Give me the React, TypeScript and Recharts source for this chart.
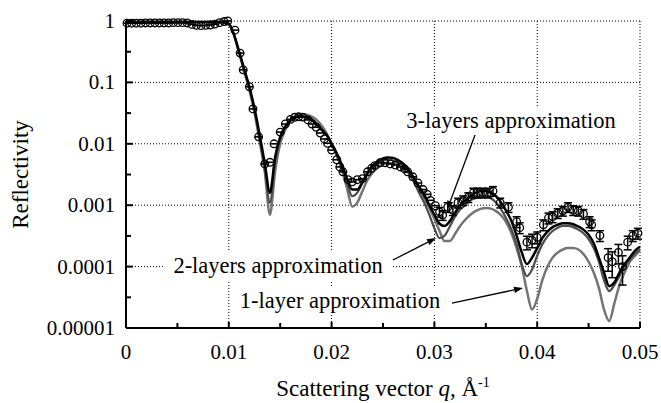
import React from 'react';
import {
  ComposedChart,
  Line,
  Scatter,
  ErrorBar,
  XAxis,
  YAxis,
  CartesianGrid,
  ReferenceLine,
  ReferenceDot,
} from 'recharts';

// model curves, sampled on a shared q grid (1/Å)
const Q_GRID = [
  0, 0.002, 0.004, 0.006, 0.008, 0.0095,
  0.01, 0.0105, 0.011, 0.0115, 0.012, 0.0125, 0.013, 0.0135, 0.014, 0.0145,
  0.015, 0.0155, 0.016, 0.0165, 0.017, 0.0175, 0.018, 0.0185, 0.019, 0.0195,
  0.02, 0.0205, 0.021, 0.0215, 0.022, 0.0225, 0.023, 0.0235, 0.024, 0.0245,
  0.025, 0.0255, 0.026, 0.0265, 0.027, 0.0275, 0.028, 0.0285, 0.029, 0.0295,
  0.03, 0.0305, 0.031, 0.0315, 0.032, 0.0325, 0.033, 0.0335, 0.034, 0.0345,
  0.035, 0.0355, 0.036, 0.0365, 0.037, 0.0375, 0.038, 0.0385, 0.039, 0.0395,
  0.04, 0.0405, 0.041, 0.0415, 0.042, 0.0425, 0.043, 0.0435, 0.044, 0.0445,
  0.045, 0.0455, 0.046, 0.0465, 0.047, 0.0475, 0.048, 0.0485, 0.049, 0.0495,
  0.05,
];

const THREE_LAYERS = [
  0.96, 0.96, 0.96, 0.96, 0.96, 0.96,
  0.9, 0.6, 0.32, 0.165, 0.085, 0.038, 0.014, 0.0048, 0.0016, 0.006,
  0.013, 0.019, 0.024, 0.027, 0.028, 0.027, 0.025, 0.021, 0.017, 0.014,
  0.01, 0.007, 0.0045, 0.0027, 0.0018, 0.0018, 0.0024, 0.0034, 0.0044, 0.0052,
  0.0058, 0.006, 0.0059, 0.0054, 0.0047, 0.0037, 0.0028, 0.002, 0.0015, 0.001,
  0.0007, 0.0005, 0.00046, 0.00055, 0.00075, 0.001, 0.0012, 0.0014, 0.0016, 0.0017,
  0.0017, 0.0016, 0.0014, 0.0011, 0.0008, 0.00055, 0.00032, 0.00017, 0.00011, 0.00014,
  0.0002, 0.00029, 0.00037, 0.00044, 0.00048, 0.00051, 0.00051, 0.00049, 0.00045, 0.0004,
  0.00033, 0.00024, 0.00014, 0.00008, 0.000048, 0.000055, 0.00008, 0.00011, 0.00014, 0.00018,
  0.00021,
];

const TWO_LAYERS = [
  0.96, 0.96, 0.96, 0.96, 0.96, 0.96,
  0.9, 0.6, 0.31, 0.16, 0.08, 0.035, 0.012, 0.004, 0.0011, 0.005,
  0.012, 0.019, 0.025, 0.028, 0.029, 0.028, 0.026, 0.022, 0.018, 0.014,
  0.01, 0.0065, 0.004, 0.0023, 0.0014, 0.0016, 0.0023, 0.0032, 0.0041, 0.0048,
  0.0053, 0.0055, 0.0054, 0.0049, 0.0042, 0.0033, 0.0024, 0.0016, 0.0011, 0.0007,
  0.00042, 0.00029, 0.00032, 0.00045, 0.00065, 0.00085, 0.001, 0.0012, 0.0013, 0.0014,
  0.0014, 0.0013, 0.0011, 0.00085, 0.0006, 0.0004, 0.00023, 0.00011, 0.00007, 0.00009,
  0.00015, 0.00023, 0.00031, 0.00038, 0.00043, 0.00046, 0.00046, 0.00044, 0.0004, 0.00035,
  0.00028, 0.0002, 0.00012, 0.00006, 0.00004, 0.00005, 0.00007, 0.0001, 0.00013, 0.00016,
  0.00019,
];

const ONE_LAYER = [
  0.96, 0.96, 0.96, 0.96, 0.96, 0.96,
  0.9, 0.6, 0.3, 0.15, 0.075, 0.032, 0.011, 0.0035, 0.0007, 0.0035,
  0.01, 0.017, 0.024, 0.028, 0.03, 0.03, 0.028, 0.025, 0.02, 0.015,
  0.01, 0.0065, 0.0038, 0.0019, 0.00095, 0.0011, 0.0017, 0.0026, 0.0034, 0.0041,
  0.0046, 0.0048, 0.0048, 0.0046, 0.0041, 0.0034, 0.0026, 0.0019, 0.0013, 0.0009,
  0.0006, 0.00038, 0.00026, 0.00026, 0.00034, 0.00046, 0.00058, 0.0007, 0.0008, 0.00087,
  0.0009, 0.00088, 0.0008, 0.00068, 0.00052, 0.00035, 0.0002, 0.0001, 0.00004, 0.00002,
  0.00003, 0.00006, 0.0001, 0.00014, 0.00017, 0.00019, 0.0002, 0.0002, 0.00019, 0.00016,
  0.00012, 0.00008, 0.000045, 0.00002, 0.000013, 0.000025, 0.00005, 0.00008, 0.00012, 0.00015,
  0.00018,
];

// measured points, low q (error bars smaller than the marker)
const LOW_Q = [
  0.0001, 0.00055, 0.001, 0.00145, 0.0019, 0.00235, 0.0028, 0.00325, 0.0037, 0.00415,
  0.0046, 0.00505, 0.0055, 0.00595, 0.0064, 0.00685, 0.0073, 0.00775, 0.0082, 0.00865,
  0.0091, 0.00955, 0.0099,
  0.0106, 0.0111, 0.0114, 0.012, 0.01235, 0.0129, 0.0135, 0.014, 0.0144, 0.015,
  0.0155, 0.016, 0.0164, 0.0168, 0.0172, 0.0177, 0.0181, 0.0185, 0.0189, 0.0193,
  0.0196, 0.02, 0.0205, 0.0208, 0.0211, 0.0216, 0.022, 0.0225, 0.023, 0.0235,
  0.0239, 0.0242, 0.0247, 0.0252, 0.0257, 0.0262, 0.0267, 0.0271, 0.0274, 0.0279,
  0.0284, 0.0289, 0.0293, 0.0296, 0.0301,
];
const LOW_R = [
  0.92, 0.92, 0.92, 0.92, 0.93, 0.93, 0.93, 0.93, 0.93, 0.93,
  0.94, 0.94, 0.94, 0.93, 0.88, 0.85, 0.84, 0.85, 0.86, 0.89,
  0.94, 0.98, 1.0,
  0.71, 0.3, 0.16, 0.085, 0.037, 0.013, 0.0047, 0.005, 0.01, 0.0155,
  0.021, 0.025, 0.027, 0.0275, 0.0272, 0.0245, 0.021, 0.0186, 0.015, 0.012,
  0.0102, 0.0079, 0.0055, 0.0042, 0.0035, 0.0026, 0.0024, 0.0026, 0.0027, 0.0035,
  0.004, 0.0044, 0.0049, 0.0049, 0.0047, 0.0045, 0.0042, 0.0039, 0.0035, 0.0029,
  0.0023, 0.0018, 0.0015, 0.0012, 0.00098,
];

// measured points, high q, with relative errors
const HIGH_Q = [
  0.0305, 0.0308, 0.0313, 0.0318, 0.0323, 0.0328, 0.0333, 0.0338, 0.0342, 0.0347,
  0.0352, 0.0357, 0.0364, 0.0372, 0.038, 0.0383, 0.039, 0.0395, 0.04, 0.0406,
  0.0411, 0.0415, 0.042, 0.0425, 0.043, 0.0435, 0.044, 0.0445, 0.0451, 0.0453,
  0.0461, 0.0469, 0.0473, 0.0479, 0.0483, 0.0488, 0.0493, 0.0498,
];
const HIGH_R = [
  0.00078, 0.00069, 0.00093, 0.00083, 0.0011, 0.0012, 0.00135, 0.0016, 0.0016, 0.0016,
  0.0016, 0.0017, 0.0011, 0.00093, 0.00054, 0.00043, 0.00025, 0.00027, 0.0003, 0.00048,
  0.00062, 0.00065, 0.00074, 0.00081, 0.00093, 0.00083, 0.00081, 0.00072, 0.00054, 0.00048,
  0.00032, 0.00014, 0.00012, 0.00017, 0.0001, 0.00025, 0.00032, 0.00035,
];
const HIGH_ERR = [
  0.18, 0.18, 0.18, 0.18, 0.18, 0.18, 0.18, 0.18, 0.18, 0.18,
  0.18, 0.18, 0.18, 0.18, 0.2, 0.2, 0.25, 0.25, 0.22, 0.2,
  0.2, 0.2, 0.18, 0.18, 0.18, 0.18, 0.18, 0.18, 0.2, 0.2,
  0.2, 0.4, 0.45, 0.35, 0.5, 0.25, 0.2, 0.2,
];

const X_TICKS = [0, 0.005, 0.01, 0.015, 0.02, 0.025, 0.03, 0.035, 0.04, 0.045, 0.05];
const X_MAJOR = [0, 0.01, 0.02, 0.03, 0.04, 0.05];
const Y_TICKS = [0.00001, 0.0000316, 0.0001, 0.000316, 0.001, 0.00316, 0.01, 0.0316, 0.1, 0.316, 1];
const Y_MAJOR = [0.00001, 0.0001, 0.001, 0.01, 0.1, 1];

const NOTES = [
  { text: '3-layers approximation', q: 0.03745, r: 0.0235, w: 217 },
  { text: '2-layers approximation', q: 0.01479, r: 0.000102, w: 217 },
  { text: '1-layer approximation', q: 0.02082, r: 0.0000275, w: 206 },
];
const ARROWS = [
  { q1: 0.03395, r1: 0.0139, q2: 0.03123, r2: 0.00084 },
  { q1: 0.02597, r1: 0.000128, q2: 0.03016, r2: 0.000292 },
  { q1: 0.03171, r1: 0.0000255, q2: 0.03862, r2: 0.0000448 },
];

const FONT = '"Liberation Serif", "Times New Roman", serif';

const curveRows = Q_GRID.map((q, i) => ({
  q,
  one: ONE_LAYER[i],
  two: TWO_LAYERS[i],
  three: THREE_LAYERS[i],
}));
const lowPts = LOW_Q.map((q, i) => ({ q, r: LOW_R[i] }));
const highPts = HIGH_Q.map((q, i) => ({
  q,
  r: HIGH_R[i],
  e: [HIGH_R[i] * HIGH_ERR[i], HIGH_R[i] * HIGH_ERR[i]],
}));

function YTick(props: any) {
  const { x, y, payload } = props;
  const major = Y_MAJOR.includes(payload.value);
  return (
    <g>
      <line x1={x} x2={x + (major ? 7 : 5)} y1={y} y2={y} stroke="#000" strokeWidth={2} />
      {major && (
        <text x={x - 11} y={y + 7} textAnchor="end" fontSize={21} fontFamily={FONT} fill="#000">
          {String(payload.value)}
        </text>
      )}
    </g>
  );
}

function XTick(props: any) {
  const { x, y, payload } = props;
  const major = X_MAJOR.includes(payload.value);
  return (
    <g>
      <line x1={x} x2={x} y1={y} y2={y - (major ? 6 : 5)} stroke="#000" strokeWidth={2} />
      {major && (
        <text x={x} y={y + 31} textAnchor="middle" fontSize={21} fontFamily={FONT} fill="#000">
          {String(payload.value)}
        </text>
      )}
    </g>
  );
}

const yTitle = (props: any) => {
  const vb = props.viewBox || { x: 0, y: 21, width: 126, height: 307 };
  const cx = vb.x + 28;
  const cy = vb.y + vb.height / 2;
  return (
    <text x={cx} y={cy} transform={`rotate(-90 ${cx} ${cy})`} textAnchor="middle" fontSize={23} fontFamily={FONT} fill="#000">
      Reflectivity
    </text>
  );
};

const xTitle = (props: any) => {
  const vb = props.viewBox || { x: 126, y: 328, width: 514, height: 75 };
  const cx = vb.x + vb.width / 2;
  const y = vb.y + 68;
  return (
    <text x={cx} y={y} textAnchor="middle" fontSize={23} fontFamily={FONT} fill="#000">
      Scattering vector <tspan fontStyle="italic">q</tspan>, Å
      <tspan dy={-9} fontSize={14}>-1</tspan>
    </text>
  );
};

const ring = (props: any) => (
  <circle cx={props.cx} cy={props.cy} r={3.8} fill="none" stroke="#000" strokeWidth={1.3} />
);

const barredRing = (props: any) => (
  <g>
    <circle cx={props.cx} cy={props.cy} r={3.8} fill="none" stroke="#000" strokeWidth={1.3} />
    <line x1={props.cx - 4} x2={props.cx + 4} y1={props.cy} y2={props.cy} stroke="#000" strokeWidth={1.6} />
  </g>
);

function Arrow(props: any) {
  const { x1, y1, x2, y2 } = props;
  const dx = x2 - x1;
  const dy = y2 - y1;
  const len = Math.hypot(dx, dy) || 1;
  const ux = dx / len;
  const uy = dy / len;
  const bx = x2 - ux * 9;
  const by = y2 - uy * 9;
  const w = 3.2;
  return (
    <g>
      <line x1={x1} y1={y1} x2={bx} y2={by} stroke="#000" strokeWidth={1.3} />
      <polygon points={`${x2},${y2} ${bx - uy * w},${by + ux * w} ${bx + uy * w},${by - ux * w}`} fill="#000" />
    </g>
  );
}

const noteShape = (text: string, w: number) => (props: any) => {
  const { cx, cy } = props;
  return (
    <g>
      <rect x={cx - w / 2 - 5} y={cy - 14} width={w + 10} height={28} fill="#fff" />
      <text x={cx} y={cy + 7} textAnchor="middle" fontSize={22.5} fontFamily={FONT} fill="#000">
        {text}
      </text>
    </g>
  );
};

export default function App() {
  return (
    <div style={{ position: 'absolute', left: 0, top: 0, width: 661, height: 403, background: '#fff' }}>
      <ComposedChart width={661} height={403} data={curveRows} margin={{ top: 21, right: 21, bottom: 0, left: 0 }}>
        <CartesianGrid
          stroke="#000"
          strokeDasharray="1 2"
          horizontalValues={[0.0001, 0.001, 0.01, 0.1, 1]}
          verticalValues={[0.01, 0.02, 0.03, 0.04, 0.05]}
        />
        <XAxis
          type="number"
          dataKey="q"
          domain={[0, 0.05]}
          ticks={X_TICKS}
          interval={0}
          height={75}
          tickSize={0}
          tickMargin={0}
          tickLine={false}
          tick={<XTick />}
          axisLine={{ stroke: '#000', strokeWidth: 2 }}
          label={xTitle}
        />
        <YAxis
          type="number"
          scale="log"
          domain={[0.00001, 1]}
          ticks={Y_TICKS}
          interval={0}
          width={126}
          tickSize={0}
          tickMargin={0}
          tickLine={false}
          tick={<YTick />}
          axisLine={{ stroke: '#000', strokeWidth: 2 }}
          label={yTitle}
        />
        <Line type="monotone" dataKey="one" stroke="#747474" strokeWidth={2.5} dot={false} activeDot={false} isAnimationActive={false} />
        <Line type="monotone" dataKey="two" stroke="#4c4c4c" strokeWidth={2.2} dot={false} activeDot={false} isAnimationActive={false} />
        <Line type="monotone" dataKey="three" stroke="#000" strokeWidth={2.5} dot={false} activeDot={false} isAnimationActive={false} />
        <Scatter data={lowPts} dataKey="r" shape={barredRing} isAnimationActive={false} />
        <Scatter data={highPts} dataKey="r" shape={ring} isAnimationActive={false}>
          <ErrorBar dataKey="e" direction="y" width={4} stroke="#000" strokeWidth={1.5} />
        </Scatter>
        {NOTES.map((n) => (
          <ReferenceDot key={n.text} x={n.q} y={n.r} r={0} shape={noteShape(n.text, n.w)} />
        ))}
        {ARROWS.map((a, i) => (
          <ReferenceLine
            key={i}
            segment={[
              { x: a.q1, y: a.r1 },
              { x: a.q2, y: a.r2 },
            ]}
            shape={Arrow}
          />
        ))}
      </ComposedChart>
    </div>
  );
}
